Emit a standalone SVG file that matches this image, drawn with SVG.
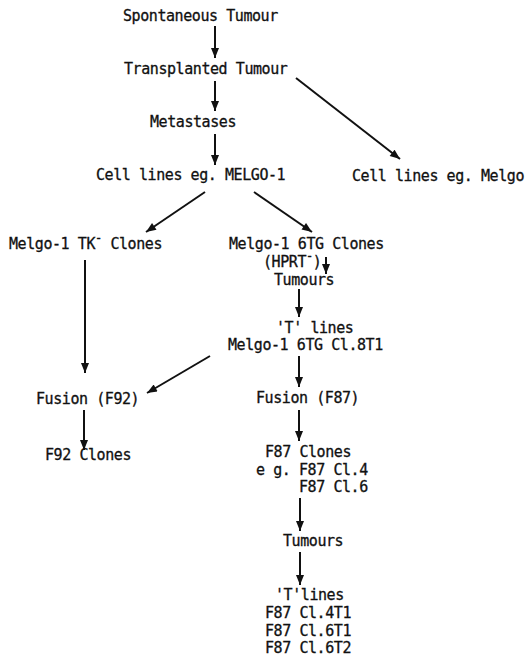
<svg xmlns="http://www.w3.org/2000/svg" width="527" height="657" viewBox="0 0 527 657">
<style>
text{font-family:"DejaVu Sans Mono","Liberation Mono",monospace;font-size:15px;letter-spacing:-0.43px;fill:#111;stroke:#111;stroke-width:0.3}
.s{font-size:12px}
.c line{stroke:#111;stroke-width:2}
</style>
<defs>
<marker id="a" viewBox="0 0 10 8" refX="10" refY="4" markerWidth="5.5" markerHeight="4" orient="auto" markerUnits="strokeWidth">
<path d="M0,0 L10,4 L0,8 z" fill="#111"/>
</marker>
</defs>
<rect width="527" height="657" fill="#fff"/>
<g class="c" id="connectors">
<line x1="215" y1="26" x2="215" y2="58" marker-end="url(#a)"/>
<line x1="215" y1="81" x2="215" y2="111" marker-end="url(#a)"/>
<line x1="215" y1="134" x2="215" y2="165" marker-end="url(#a)"/>
<line x1="296" y1="78" x2="400" y2="159" marker-end="url(#a)"/>
<line x1="205" y1="192" x2="146" y2="232" marker-end="url(#a)"/>
<line x1="254" y1="192" x2="312" y2="232" marker-end="url(#a)"/>
<line x1="326" y1="257" x2="326" y2="274" marker-end="url(#a)"/>
<line x1="299" y1="289" x2="299" y2="317" marker-end="url(#a)"/>
<line x1="85" y1="260" x2="85" y2="373" marker-end="url(#a)"/>
<line x1="210" y1="356" x2="147" y2="393" marker-end="url(#a)"/>
<line x1="84" y1="410" x2="84" y2="450" marker-end="url(#a)"/>
<line x1="299" y1="356" x2="299" y2="387" marker-end="url(#a)"/>
<line x1="299" y1="410" x2="299" y2="441" marker-end="url(#a)"/>
<line x1="300" y1="498" x2="300" y2="531" marker-end="url(#a)"/>
<line x1="300" y1="552" x2="300" y2="585" marker-end="url(#a)"/>
</g>
<g id="spontaneous"><text x="123" y="21">Spontaneous Tumour</text></g>
<g id="transplanted"><text x="124" y="74">Transplanted Tumour</text></g>
<g id="metastases"><text x="150" y="127">Metastases</text></g>
<g id="celllines1"><text x="96" y="180">Cell lines eg. MELGO-1</text></g>
<g id="celllines2"><text x="352" y="181">Cell lines eg. Melgo</text></g>
<g id="tkclones"><text x="9" y="249">Melgo-1 TK<tspan class="s" dy="-7">-</tspan><tspan dy="7"> Clones</tspan></text></g>
<g id="tgclones"><text x="229" y="249">Melgo-1 6TG Clones</text><text x="263" y="267">(HPRT<tspan class="s" dy="-7">-</tspan><tspan dy="7">)</tspan></text></g>
<g id="tumours1"><text x="274" y="285">Tumours</text></g>
<g id="tlines1"><text x="276" y="333">'T' lines</text><text x="228" y="350">Melgo-1 6TG Cl.8T1</text></g>
<g id="fusion92"><text x="36" y="404">Fusion (F92)</text></g>
<g id="f92clones"><text x="45" y="460">F92 Clones</text></g>
<g id="fusion87"><text x="256" y="403">Fusion (F87)</text></g>
<g id="f87clones"><text x="265" y="457">F87 Clones</text><text x="256" y="475">e g. F87 Cl.4</text><text x="299" y="492">F87 Cl.6</text></g>
<g id="tumours2"><text x="283" y="546">Tumours</text></g>
<g id="tlines2"><text x="275" y="600">'T'lines</text><text x="265" y="618">F87 Cl.4T1</text><text x="265" y="636">F87 Cl.6T1</text><text x="265" y="653">F87 Cl.6T2</text></g>
</svg>
